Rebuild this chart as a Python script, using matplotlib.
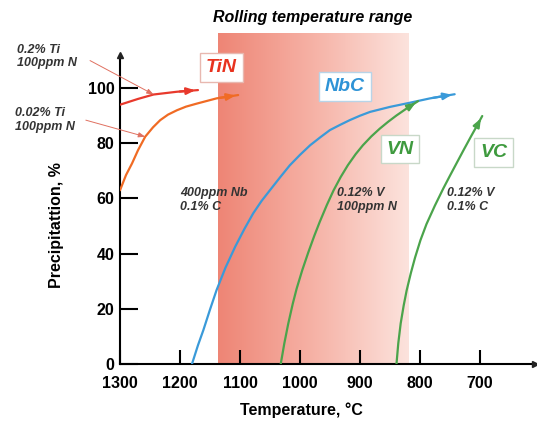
import matplotlib
matplotlib.use("Agg")
import matplotlib.pyplot as plt
import numpy as np
from matplotlib.colors import LinearSegmentedColormap

plt.rcParams['font.family'] = ['Liberation Sans', 'DejaVu Sans']

# Precipitation curves (temperature in degC, precipitation in %)
ti_hi_T = [1300, 1270, 1244, 1205, 1170]
ti_hi_p = [94, 96.1, 97.7, 98.7, 99.3]

ti_lo_T = [1300, 1290, 1280, 1270, 1258, 1245, 1233, 1220, 1205, 1190, 1172, 1139, 1103]
ti_lo_p = [63, 68.5, 72.7, 77.5, 82.4, 85.8, 88.4, 90.4, 92, 93.3, 94.4, 96.3, 97.5]

nbc_T = [1180, 1170, 1161, 1150, 1139, 1124, 1108, 1093, 1078, 1064, 1050, 1033, 1017, 1000,
         983, 966, 950, 933, 917, 900, 883, 850, 817, 783, 742]
nbc_p = [0, 6.8, 12.3, 19.7, 26.8, 35, 42.5, 48.8, 54.6, 59.1, 63, 67.7, 72, 75.8,
         79.3, 82.2, 84.8, 86.7, 88.4, 90, 91.4, 93.2, 94.7, 96.3, 97.8]

vn_T = [1032, 1026, 1019.5, 1012, 1005.5, 996, 986, 976, 967, 955, 944, 932, 920, 907,
        895, 881, 867, 853, 839, 821, 803]
vn_p = [0, 7.5, 14.6, 21.8, 27.3, 34.1, 40.5, 46.5, 51.5, 57.7, 62.9, 67.8, 72.1, 76.1,
        79.3, 82.5, 85.3, 87.8, 90.1, 92.8, 95.3]

vc_T = [839, 836, 832, 827, 822, 815, 808, 799, 789, 775, 761, 750, 739, 727, 714, 705, 696]
vc_p = [0, 7.5, 14.7, 21.2, 26.7, 33, 38.6, 44.9, 50.7, 57.4, 63.6, 68.2, 72.7, 77.6, 82.8, 86.3, 89.9]

rolling_range = [1137, 820]
x_ticks = [1300, 1200, 1100, 1000, 900, 800, 700]
y_ticks = [0, 20, 40, 60, 80, 100]

fig = plt.figure(figsize=(5.37, 4.23), dpi=100)
ax = fig.add_axes([0.2235, 0.1395, 0.7728, 0.7825])

# rolling temperature range shading (gradient)
cmap = LinearSegmentedColormap.from_list('roll', ['#EE8575', '#F6B2A6', '#FCE3DD'])
grad = np.linspace(0, 1, 256).reshape(1, -1)
ax.imshow(grad, extent=[rolling_range[0], rolling_range[1], 0, 120], cmap=cmap,
          aspect='auto', zorder=0, interpolation='bicubic')
ax.set_xlim(1300, 608)
ax.set_ylim(0, 120)
ax.text(np.mean(rolling_range), 125.5, 'Rolling temperature range', ha='center', va='center',
        fontsize=11.5, fontweight='bold', fontstyle='italic', clip_on=False)

curves = [
    (ti_hi_T, ti_hi_p, '#E8392C'),
    (ti_lo_T, ti_lo_p, '#F06B24'),
    (nbc_T, nbc_p, '#3A9AD9'),
    (vn_T, vn_p, '#4BA44B'),
    (vc_T, vc_p, '#4BA44B'),
]
for T, p, c in curves:
    ax.plot(T, p, color=c, lw=1.6, zorder=3, solid_capstyle='round', solid_joinstyle='round')
    ax.annotate('', xy=(T[-1], p[-1]), xytext=(T[-2], p[-2]),
                arrowprops=dict(arrowstyle='-|>,head_length=0.5,head_width=0.2', color=c, lw=1.6),
                zorder=3)

# composition annotations
txt = dict(fontsize=9, fontweight='bold', fontstyle='italic', color='#333333', clip_on=False)
ax.text(1472, 111.5, '0.2% Ti\n100ppm N', ha='left', va='center', linespacing=1.15, **txt)
ax.text(1475, 88.5, '0.02% Ti\n100ppm N', ha='left', va='center', linespacing=1.15, **txt)
ax.text(1200, 59.5, '400ppm Nb\n0.1% C', ha='left', va='center', linespacing=1.15, **txt)
ax.text(938, 59.5, '0.12% V\n100ppm N', ha='left', va='center', linespacing=1.15, **txt)
ax.text(755, 59.5, '0.12% V\n0.1% C', ha='left', va='center', linespacing=1.15, **txt)

ax.annotate('', xy=(1244, 97.7), xytext=(1350, 110), annotation_clip=False,
            arrowprops=dict(arrowstyle='-|>,head_length=0.4,head_width=0.15',
                            color='#E07060', lw=0.7, shrinkA=0, shrinkB=0))
ax.annotate('', xy=(1258, 82.4), xytext=(1357, 88.4), annotation_clip=False,
            arrowprops=dict(arrowstyle='-|>,head_length=0.4,head_width=0.15',
                            color='#E07060', lw=0.7, shrinkA=0, shrinkB=0))

# precipitate labels
boxes = [
    ('TiN', 1131, 107.4, '#E8321E', '#E8B8B0'),
    ('NbC', 925, 100.7, '#2E93D6', '#B8D4E8'),
    ('VN', 833, 77.9, '#3E9A3E', '#C8D8C8'),
    ('VC', 677, 76.6, '#3E9A3E', '#C8D8C8'),
]
for name, x, y, c, ec in boxes:
    ax.text(x, y, name, ha='center', va='center', fontsize=14, fontweight='bold',
            fontstyle='italic', color=c, zorder=4,
            bbox=dict(boxstyle='square,pad=0.3', fc='white', ec=ec, lw=1))

# axes styling
for s in ['top', 'right']:
    ax.spines[s].set_visible(False)
ax.spines['left'].set_bounds(0, 112)
ax.spines['left'].set_linewidth(1.5)
ax.spines['bottom'].set_linewidth(1.5)
ax.plot([1300], [112], marker='^', color='#222222', ms=5, clip_on=False, zorder=5)
ax.plot([608], [0], marker='>', color='#222222', ms=5, clip_on=False, zorder=5)

ax.set_xticks(x_ticks)
ax.set_yticks(y_ticks)
ax.tick_params(axis='x', direction='in', length=10, width=1.5, pad=9, labelsize=11.5)
ax.tick_params(axis='y', direction='in', length=13, width=1.5, pad=4, labelsize=11.5)
for lab in ax.get_xticklabels() + ax.get_yticklabels():
    lab.set_fontweight('bold')

ax.set_xlabel('Temperature, °C', fontsize=11.5, fontweight='bold')
ax.set_ylabel('Precipitattion, %', fontsize=11.5, fontweight='bold')
ax.xaxis.set_label_coords(0.436, -0.115)
ax.yaxis.set_label_coords(-0.135, 0.42)

fig.savefig('out.png', dpi=100)
